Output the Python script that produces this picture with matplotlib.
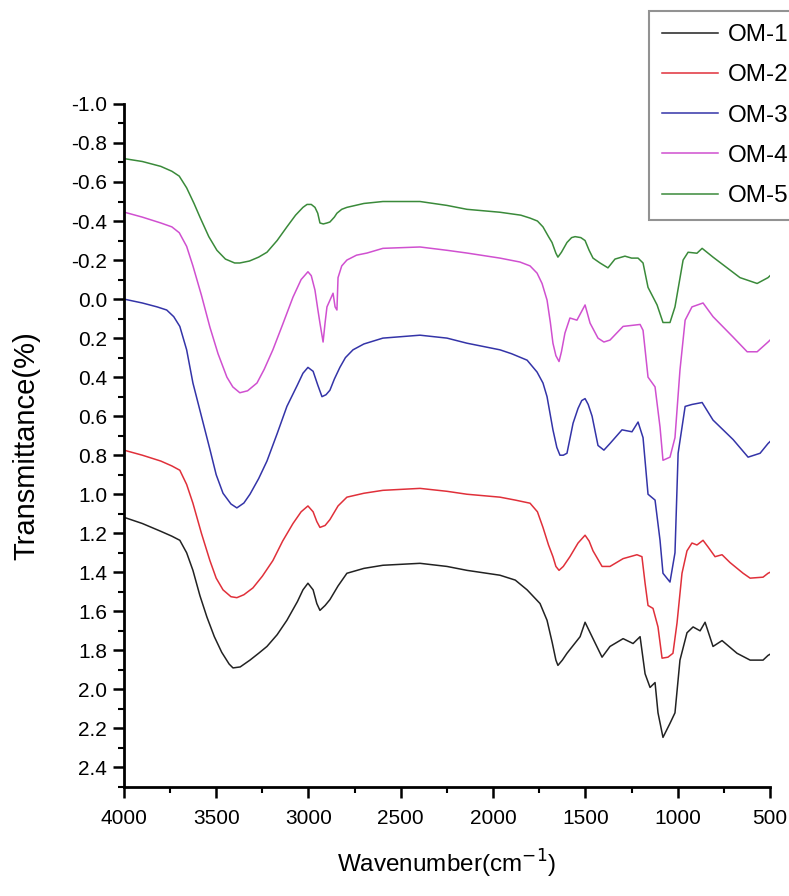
import matplotlib
matplotlib.use("Agg")
import matplotlib.pyplot as plt
from matplotlib.ticker import MultipleLocator, FormatStrFormatter

plt.rcParams['font.family'] = ['Liberation Sans', 'DejaVu Sans']
plt.rcParams['axes.unicode_minus'] = False

labels = ["OM-1", "OM-2", "OM-3", "OM-4", "OM-5"]
colors = ["#222222", "#e0303a", "#3434a8", "#d050d0", "#3a8a3a"]

om1_w = [4000, 3900, 3800, 3740, 3697, 3660, 3626, 3588, 3550, 3510, 3470, 3430, 3409, 3370,
         3317, 3270, 3225, 3170, 3117, 3060, 3030, 3003, 2975, 2955, 2938, 2910, 2884, 2840,
         2792, 2700, 2597, 2396, 2250, 2142, 1963, 1880, 1816, 1746, 1708, 1680, 1660, 1649,
         1625, 1600, 1529, 1502, 1459, 1410, 1367, 1296, 1242, 1204, 1177, 1150, 1123, 1107,
         1080, 1042, 1015, 988, 950, 917, 879, 852, 809, 760, 679, 608, 538, 511, 500]
om1_v = [1.118, 1.15, 1.19, 1.215, 1.236, 1.30, 1.39, 1.52, 1.63, 1.73, 1.81, 1.87, 1.89, 1.885,
         1.85, 1.815, 1.78, 1.72, 1.646, 1.55, 1.49, 1.456, 1.49, 1.56, 1.595, 1.57, 1.54, 1.47,
         1.405, 1.38, 1.364, 1.354, 1.37, 1.39, 1.415, 1.44, 1.49, 1.56, 1.646, 1.76, 1.85, 1.877,
         1.85, 1.815, 1.73, 1.656, 1.74, 1.835, 1.78, 1.74, 1.765, 1.73, 1.92, 1.99, 1.965, 2.12,
         2.246, 2.174, 2.12, 1.85, 1.71, 1.68, 1.70, 1.656, 1.78, 1.75, 1.815, 1.85, 1.85, 1.826, 1.82]

om2_w = [4000, 3900, 3800, 3740, 3697, 3660, 3626, 3580, 3534, 3500, 3463, 3420, 3388, 3350,
         3301, 3250, 3193, 3140, 3084, 3040, 3003, 2975, 2955, 2938, 2910, 2884, 2840, 2792,
         2700, 2597, 2396, 2250, 2142, 1963, 1880, 1800, 1760, 1730, 1700, 1676, 1660, 1643,
         1620, 1584, 1540, 1502, 1480, 1459, 1410, 1367, 1296, 1221, 1194, 1177, 1161, 1134,
         1107, 1085, 1053, 1026, 1004, 977, 950, 923, 896, 863, 836, 798, 760, 717, 646, 608,
         538, 511, 500]
om2_v = [0.774, 0.80, 0.83, 0.855, 0.877, 0.95, 1.046, 1.20, 1.34, 1.43, 1.49, 1.525, 1.53, 1.515,
         1.48, 1.42, 1.34, 1.24, 1.15, 1.09, 1.06, 1.09, 1.14, 1.17, 1.16, 1.13, 1.06, 1.015,
         0.995, 0.98, 0.97, 0.985, 1.0, 1.015, 1.03, 1.046, 1.09, 1.17, 1.26, 1.32, 1.37, 1.39,
         1.37, 1.32, 1.25, 1.21, 1.24, 1.29, 1.37, 1.37, 1.33, 1.31, 1.32, 1.456, 1.57, 1.585,
         1.68, 1.84, 1.835, 1.815, 1.66, 1.405, 1.29, 1.25, 1.26, 1.236, 1.27, 1.32, 1.31, 1.35, 1.405, 1.43,
         1.425, 1.405, 1.40]

om3_w = [4000, 3900, 3820, 3768, 3730, 3697, 3660, 3626, 3580, 3534, 3500, 3463, 3420, 3388,
         3350, 3317, 3270, 3225, 3170, 3117, 3060, 3030, 3003, 2975, 2950, 2927, 2905, 2884,
         2860, 2830, 2800, 2759, 2700, 2597, 2396, 2250, 2142, 1963, 1900, 1816, 1762, 1730,
         1708, 1676, 1655, 1638, 1620, 1600, 1585, 1567, 1540, 1520, 1502, 1485, 1464, 1432,
         1400, 1367, 1302, 1248, 1215, 1188, 1161, 1123, 1096, 1080, 1042, 1015, 998, 960,
         923, 868, 809, 700, 619, 554, 511, 500]
om3_v = [0.0, 0.02, 0.04, 0.056, 0.09, 0.14, 0.26, 0.43, 0.60, 0.77, 0.90, 0.995, 1.05, 1.07,
         1.045, 1.0, 0.92, 0.83, 0.69, 0.55, 0.44, 0.38, 0.35, 0.37, 0.44, 0.50, 0.49, 0.467,
         0.41, 0.35, 0.30, 0.26, 0.23, 0.20, 0.185, 0.20, 0.226, 0.26, 0.28, 0.313, 0.374, 0.43,
         0.50, 0.67, 0.76, 0.80, 0.80, 0.79, 0.72, 0.636, 0.56, 0.52, 0.51, 0.54, 0.60, 0.75,
         0.774, 0.74, 0.67, 0.68, 0.63, 0.71, 1.0, 1.03, 1.236, 1.405, 1.45, 1.30, 0.79, 0.55,
         0.54, 0.53, 0.62, 0.72, 0.81, 0.79, 0.74, 0.73]

om4_w = [4000, 3900, 3800, 3740, 3700, 3660, 3626, 3580, 3534, 3490, 3442, 3410, 3372, 3330,
         3279, 3240, 3193, 3140, 3084, 3040, 3003, 2985, 2965, 2950, 2938, 2921, 2910, 2900,
         2867, 2856, 2846, 2840, 2820, 2792, 2740, 2683, 2597, 2396, 2250, 2142, 1963, 1855,
         1800, 1762, 1735, 1708, 1690, 1676, 1660, 1643, 1630, 1611, 1584, 1546, 1502, 1475,
         1432, 1400, 1367, 1296, 1204, 1188, 1161, 1123, 1096, 1080, 1042, 1015, 988, 960,
         923, 863, 809, 700, 624, 570, 511, 500]
om4_v = [-0.446, -0.42, -0.39, -0.37, -0.34, -0.27, -0.17, -0.02, 0.144, 0.28, 0.40, 0.45, 0.48, 0.47,
         0.43, 0.36, 0.26, 0.13, -0.01, -0.10, -0.14, -0.12, -0.046, 0.05, 0.123, 0.22, 0.12, 0.04,
         -0.03, 0.04, 0.056, -0.11, -0.17, -0.20, -0.225, -0.236, -0.26, -0.267, -0.25, -0.236, -0.21, -0.19,
         -0.17, -0.133, -0.08, 0.005, 0.12, 0.226, 0.29, 0.32, 0.27, 0.174, 0.097, 0.108, 0.03, 0.123,
         0.20, 0.22, 0.21, 0.14, 0.13, 0.16, 0.40, 0.45, 0.656, 0.826, 0.81, 0.71, 0.364, 0.108,
         0.04, 0.02, 0.09, 0.195, 0.27, 0.27, 0.22, 0.21]

om5_w = [4000, 3900, 3800, 3740, 3700, 3660, 3620, 3588, 3540, 3496, 3450, 3400, 3372, 3320,
         3270, 3225, 3170, 3117, 3070, 3030, 3008, 2985, 2965, 2950, 2938, 2920, 2900, 2884,
         2860, 2846, 2820, 2792, 2700, 2597, 2396, 2250, 2142, 1963, 1850, 1800, 1760, 1730,
         1700, 1681, 1660, 1649, 1630, 1600, 1575, 1556, 1525, 1502, 1480, 1459, 1421, 1378,
         1340, 1286, 1250, 1215, 1188, 1161, 1112, 1080, 1042, 1015, 971, 944, 896, 868, 809,
         663, 570, 511, 500]
om5_v = [-0.72, -0.705, -0.68, -0.655, -0.63, -0.57, -0.49, -0.42, -0.32, -0.25, -0.205, -0.185, -0.185, -0.195,
         -0.215, -0.24, -0.30, -0.37, -0.43, -0.47, -0.485, -0.485, -0.47, -0.44, -0.39, -0.385, -0.39, -0.395,
         -0.42, -0.44, -0.46, -0.47, -0.49, -0.50, -0.50, -0.48, -0.46, -0.445, -0.43, -0.415, -0.40, -0.37,
         -0.32, -0.29, -0.235, -0.215, -0.24, -0.29, -0.315, -0.32, -0.315, -0.30, -0.25, -0.21, -0.185, -0.16,
         -0.205, -0.22, -0.21, -0.21, -0.185, -0.06, 0.03, 0.12, 0.12, 0.04, -0.20, -0.24, -0.235, -0.26, -0.215,
         -0.11, -0.08, -0.11, -0.12]

series_w = [om1_w, om2_w, om3_w, om4_w, om5_w]
series_v = [om1_v, om2_v, om3_v, om4_v, om5_v]

fig = plt.figure(figsize=(7.89, 8.96), dpi=100)
ax = fig.add_axes([0.157, 0.1217, 0.819, 0.7623])

handles = []
for w, v, c, lab in zip(series_w, series_v, colors, labels):
    h, = ax.plot(w, v, color=c, lw=1.1, label=lab)
    handles.append(h)

ax.set_xlim(4000, 500)
ax.set_ylim(2.5, -1.0)
ax.xaxis.set_major_locator(MultipleLocator(500))
ax.xaxis.set_minor_locator(MultipleLocator(250))
ax.set_yticks([round(-1.0 + 0.2 * i, 1) for i in range(18)])
ax.yaxis.set_minor_locator(MultipleLocator(0.1))
ax.yaxis.set_major_formatter(FormatStrFormatter('%.1f'))

for s in ['top', 'right']:
    ax.spines[s].set_visible(False)
for s in ['left', 'bottom']:
    ax.spines[s].set_linewidth(2.0)

ax.tick_params(which='major', direction='out', length=8, width=1.8, labelsize=15, pad=4)
ax.tick_params(which='minor', direction='out', length=4.5, width=1.5)
ax.tick_params(axis='x', which='major', pad=8)

ax.set_xlabel('Wavenumber(cm$^{-1}$)', fontsize=17.5, labelpad=14)
ax.set_ylabel('Transmittance(%)', fontsize=21, labelpad=22)

leg = fig.legend(handles=handles, loc='upper left', bbox_to_anchor=(0.8225, 0.988),
                 fontsize=17.5, frameon=True, fancybox=False, handlelength=2.3,
                 labelspacing=0.75, borderpad=0.55, handletextpad=0.4, borderaxespad=0)
leg.get_frame().set_edgecolor('#777777')
leg.get_frame().set_linewidth(1.5)

fig.savefig('out.png', dpi=100)
